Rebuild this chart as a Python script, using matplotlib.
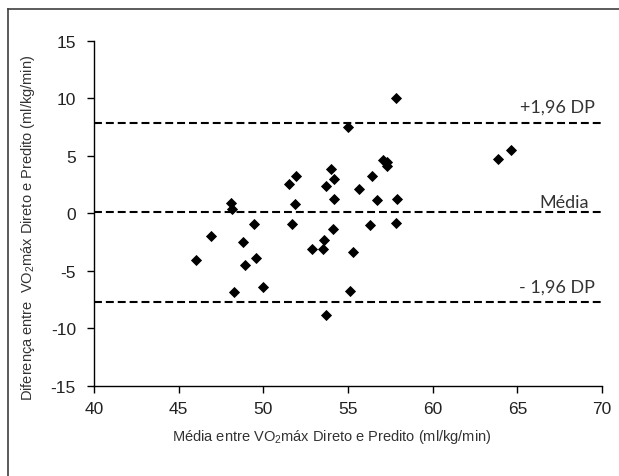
import matplotlib
matplotlib.use("Agg")
import matplotlib.pyplot as plt
from matplotlib import font_manager
from matplotlib.lines import Line2D

# mean of direct and predicted VO2max (x) and their difference (y)
media = [48.07, 48.13, 49.43, 46.89, 48.80, 49.57, 48.94, 46.04, 50.00, 48.25,
         57.82, 55.00, 57.05, 57.32, 57.29, 54.00, 51.93, 56.44, 51.52, 54.19,
         53.69, 55.63, 51.87, 54.19, 56.72, 57.88, 51.71, 56.32, 57.82, 54.13,
         53.60, 52.89, 53.54, 55.32, 55.12, 53.70, 63.88, 64.61]
diferenca = [0.95, 0.40, -0.90, -1.94, -2.50, -3.85, -4.46, -4.03, -6.37, -6.84,
             10.0, 7.50, 4.63, 4.46, 4.17, 3.91, 3.28, 3.30, 2.58, 2.96,
             2.38, 2.11, 0.84, 1.22, 1.16, 1.28, -0.93, -1.01, -0.81, -1.39,
             -2.32, -3.07, -3.07, -3.39, -6.72, -8.87, 4.75, 5.48]

media_dif = 0.1
lim_sup = 7.9
lim_inf = -7.7

names = set(f.name for f in font_manager.fontManager.ttflist)
narrow = "Liberation Sans Narrow" if "Liberation Sans Narrow" in names else "Liberation Sans"
plt.rcParams['mathtext.default'] = 'regular'
plt.rcParams['axes.unicode_minus'] = False

fig = plt.figure(figsize=(6.19, 4.77), dpi=100)
ax = fig.add_axes([0.1519, 0.1887, 0.8207, 0.7233])

ax.plot(media, diferenca, linestyle="none", marker="D", ms=5, mew=0.6, color="black")

for yv in [lim_sup, media_dif, lim_inf]:
  ax.axhline(yv, color="black", lw=1.5, dashes=(3.8, 1.9))

txt = dict(family=["Lato", "DejaVu Sans"], fontsize=13, color="#333333", ha="right", va="baseline")
ax.text(69.6, 8.9, "+1,96 DP", **txt)
ax.text(69.25, 0.6, "Média", **txt)
ax.text(69.6, -6.8, "- 1,96 DP", **txt)

ax.set_xlim(40, 70)
ax.set_ylim(-15, 15)
ax.set_xticks(range(40, 71, 5))
ax.set_yticks(range(-15, 16, 5))
ax.spines['top'].set_visible(False)
ax.spines['right'].set_visible(False)
for s in ['left', 'bottom']:
  ax.spines[s].set_linewidth(1.0)
ax.tick_params(direction="out", length=5, width=1.0, labelsize=12.5, pad=6, labelcolor="#222222")
ax.tick_params(axis="y", pad=8)
for lab in ax.get_xticklabels() + ax.get_yticklabels():
  lab.set_family("Liberation Sans")

ax.set_xlabel("Média entre VO$_2$máx Direto e Predito (ml/kg/min)", family=narrow, fontsize=10.5, color="#333333")
ax.set_ylabel("Diferença entre  VO$_2$máx Direto e Predito (ml/kg/min)", family=narrow, fontsize=10.5, color="#333333")
ax.xaxis.set_label_coords(0.467, -0.118)
ax.yaxis.set_label_coords(-0.112, 0.46)

# chart frame (left and top edges)
fig.add_artist(Line2D([8/619, 8/619], [0, 1-10/477], transform=fig.transFigure, color="#404040", lw=1.2))
fig.add_artist(Line2D([8/619, 1], [1-10/477, 1-10/477], transform=fig.transFigure, color="#404040", lw=1.2))

plt.savefig("out.png", dpi=100)
